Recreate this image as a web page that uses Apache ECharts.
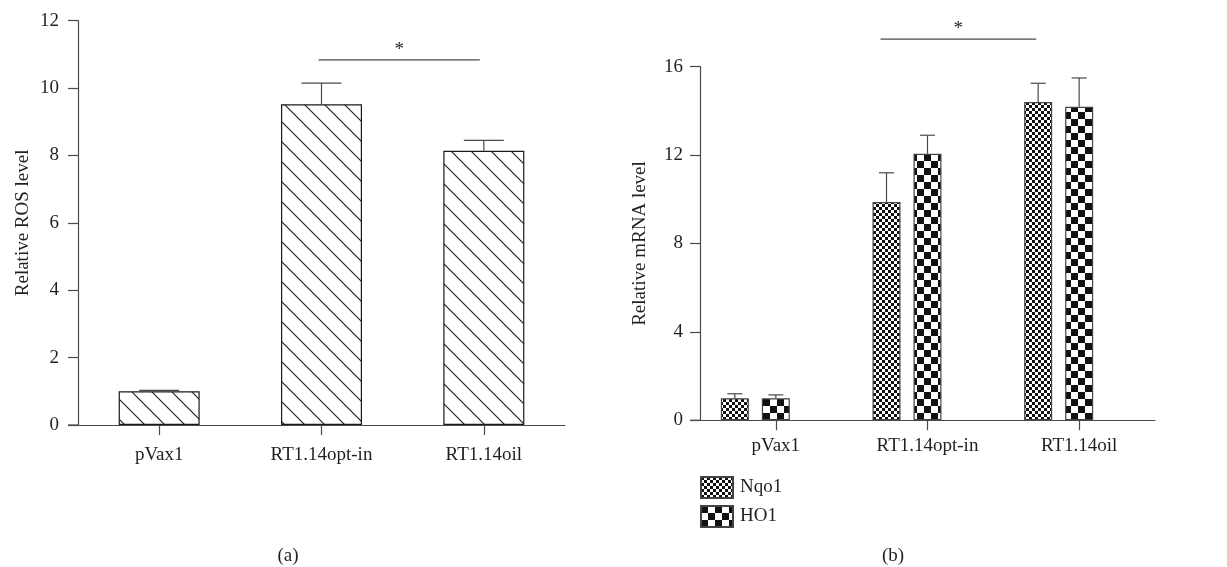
<!DOCTYPE html>
<html><head><meta charset="utf-8">
<script src="https://cdn.jsdelivr.net/npm/echarts@6/dist/echarts.min.js"></script>
<style>html,body{margin:0;padding:0;background:#fff}#c{width:1227px;height:567px}</style>
</head><body><div id="c"></div>
<script>
// ---- data ----
const categories = ['pVax1', 'RT1.14opt-in', 'RT1.14oil'];
const rosMean = [1.0, 9.52, 8.14];
const rosErr = [0.03, 0.63, 0.31];
const nqo1Mean = [1.0, 9.88, 14.4];
const nqo1Err = [0.2, 1.32, 0.85];
const ho1Mean = [1.0, 12.06, 14.19];
const ho1Err = [0.15, 0.84, 1.30];
const rosTicks = [0, 2, 4, 6, 8, 10, 12];
const mrnaTicks = [0, 4, 8, 12, 16];
const sigA = [[1, 2, 10.84]];
const sigB = [[1, 2, 17.25]];
const seriesNames = ['Nqo1', 'HO1'];
const captions = ['(a)', '(b)'];
const yNames = ['Relative ROS level', 'Relative mRNA level'];

// ---- style ----
const FONT = 'Liberation Serif';
const TXT = '#231f20';
const AX = '#4a4a4a';
const FS = 19;

function hatchPattern() {
  const c = document.createElement('canvas'); c.width = 20; c.height = 20;
  const g = c.getContext('2d');
  g.fillStyle = '#fff'; g.fillRect(0, 0, 20, 20);
  g.strokeStyle = '#1a1a1a'; g.lineWidth = 1.1;
  [-20, 0, 20].forEach(o => { g.beginPath(); g.moveTo(o - 2, -2); g.lineTo(o + 22, 22); g.stroke(); });
  return { image: c, repeat: 'repeat' };
}
function checker(cell) {
  const c = document.createElement('canvas'); c.width = cell * 2; c.height = cell * 2;
  const g = c.getContext('2d');
  g.fillStyle = '#fff'; g.fillRect(0, 0, cell * 2, cell * 2);
  g.fillStyle = '#111';
  g.fillRect(0, 0, cell, cell); g.fillRect(cell, cell, cell, cell);
  return { image: c, repeat: 'repeat' };
}

const BW_A = 81, BW_B = 28, GAP_B = 13;
const offN = -(BW_B + GAP_B), offH = 0;

function errRender(xOff, capW) {
  return function (params, api) {
    const i = api.value(0), m = api.value(1), u = api.value(2);
    const p0 = api.coord([i, m]), p1 = api.coord([i, u]);
    const x = p0[0] + xOff;
    const st = { stroke: AX, lineWidth: 1.2 };
    return { type: 'group', children: [
      { type: 'line', shape: { x1: x, y1: p0[1], x2: x, y2: p1[1] }, style: st },
      { type: 'line', shape: { x1: x - capW / 2, y1: p1[1], x2: x + capW / 2, y2: p1[1] }, style: st }
    ]};
  };
}
function sigRender(o0, o1) {
  return function (params, api) {
    const p0 = api.coord([api.value(0), api.value(2)]);
    const p1 = api.coord([api.value(1), api.value(2)]);
    const x0 = p0[0] + o0, x1 = p1[0] + o1, y = p0[1];
    return { type: 'group', children: [
      { type: 'line', shape: { x1: x0, y1: y, x2: x1, y2: y }, style: { stroke: AX, lineWidth: 1.2 } },
      { type: 'text', x: (x0 + x1) / 2, y: y - 10, style: { text: '*', font: FS + 'px "' + FONT + '"', fill: TXT, align: 'center', verticalAlign: 'middle' } }
    ]};
  };
}

const axisCommon = {
  axisLine: { show: true, lineStyle: { color: AX, width: 1.2 } },
  axisTick: { show: true, inside: false, length: 10, lineStyle: { color: AX, width: 1.2 } },
  splitLine: { show: false },
  axisLabel: { color: TXT, fontFamily: FONT, fontSize: FS }
};

const chart = echarts.init(document.getElementById('c'), null, { renderer: 'canvas' });
const option = {
  animation: false,
  backgroundColor: '#fff',
  textStyle: { fontFamily: FONT, color: TXT },
  grid: [
    { left: 78, top: 20.7, width: 487, height: 404.3, outerBoundsMode: 'none', containLabel: false },
    { left: 700, top: 66.7, width: 455, height: 353.6, outerBoundsMode: 'none', containLabel: false }
  ],
  xAxis: [
    Object.assign({}, axisCommon, { type: 'category', gridIndex: 0, data: categories,
      axisTick: Object.assign({}, axisCommon.axisTick, { alignWithLabel: true }),
      axisLabel: Object.assign({}, axisCommon.axisLabel, { margin: 21 }) }),
    Object.assign({}, axisCommon, { type: 'category', gridIndex: 1, data: categories,
      axisTick: Object.assign({}, axisCommon.axisTick, { alignWithLabel: true }),
      axisLabel: Object.assign({}, axisCommon.axisLabel, { margin: 16 }) })
  ],
  yAxis: [
    Object.assign({}, axisCommon, { type: 'value', gridIndex: 0, min: rosTicks[0], max: rosTicks[rosTicks.length - 1],
      interval: rosTicks[1] - rosTicks[0], name: yNames[0], nameLocation: 'middle', nameGap: 45,
      nameTextStyle: { fontFamily: FONT, fontSize: FS, color: TXT },
      axisLabel: Object.assign({}, axisCommon.axisLabel, { margin: 19 }) }),
    Object.assign({}, axisCommon, { type: 'value', gridIndex: 1, min: mrnaTicks[0], max: mrnaTicks[mrnaTicks.length - 1],
      interval: mrnaTicks[1] - mrnaTicks[0], name: yNames[1], nameLocation: 'middle', nameGap: 50,
      nameTextStyle: { fontFamily: FONT, fontSize: FS, color: TXT },
      axisLabel: Object.assign({}, axisCommon.axisLabel, { margin: 17 }) })
  ],
  legend: {
    data: seriesNames, orient: 'vertical', left: 700, top: 476, padding: 0, itemWidth: 32, itemHeight: 21, itemGap: 6,
    icon: 'rect', selectedMode: false,
    textStyle: { fontFamily: FONT, fontSize: FS, color: TXT, lineHeight: 21, padding: [0, 0, 0, 2] }
  },
  graphic: [
    { type: 'line', shape: { x1: 68, y1: 425, x2: 78, y2: 425 }, style: { stroke: AX, lineWidth: 1.2 } },
    { type: 'line', shape: { x1: 690, y1: 420.3, x2: 700, y2: 420.3 }, style: { stroke: AX, lineWidth: 1.2 } },
    { type: 'text', x: 288, y: 556, style: { text: captions[0], font: FS + 'px "' + FONT + '"', fill: TXT, align: 'center', verticalAlign: 'middle' } },
    { type: 'text', x: 893, y: 556, style: { text: captions[1], font: FS + 'px "' + FONT + '"', fill: TXT, align: 'center', verticalAlign: 'middle' } }
  ],
  series: [
    { type: 'bar', name: 'ROS', xAxisIndex: 0, yAxisIndex: 0, data: rosMean, barWidth: BW_A,
      itemStyle: { color: hatchPattern(), borderColor: '#1a1a1a', borderWidth: 1.2 } },
    { type: 'custom', xAxisIndex: 0, yAxisIndex: 0, clip: false, z: 5,
      data: categories.map((c, i) => [i, rosMean[i], rosMean[i] + rosErr[i]]), renderItem: errRender(0, 40) },
    { type: 'custom', xAxisIndex: 0, yAxisIndex: 0, clip: false, z: 5, data: sigA, renderItem: sigRender(-3, -4) },

    { type: 'bar', name: seriesNames[0], xAxisIndex: 1, yAxisIndex: 1, data: nqo1Mean, barWidth: BW_B, barGap: (GAP_B / BW_B * 100) + '%',
      itemStyle: { color: checker(3), borderColor: '#444', borderWidth: 1.2 } },
    { type: 'bar', name: seriesNames[1], xAxisIndex: 1, yAxisIndex: 1, data: ho1Mean, barWidth: BW_B, barGap: (GAP_B / BW_B * 100) + '%',
      itemStyle: { color: checker(7), borderColor: '#444', borderWidth: 1.2 } },
    { type: 'bar', name: 'spacer', xAxisIndex: 1, yAxisIndex: 1, data: [], barWidth: BW_B, barGap: (GAP_B / BW_B * 100) + '%', silent: true },
    { type: 'custom', xAxisIndex: 1, yAxisIndex: 1, clip: false, z: 5,
      data: categories.map((c, i) => [i, nqo1Mean[i], nqo1Mean[i] + nqo1Err[i]]), renderItem: errRender(offN, 15) },
    { type: 'custom', xAxisIndex: 1, yAxisIndex: 1, clip: false, z: 5,
      data: categories.map((c, i) => [i, ho1Mean[i], ho1Mean[i] + ho1Err[i]]), renderItem: errRender(offH, 15) },
    { type: 'custom', xAxisIndex: 1, yAxisIndex: 1, clip: false, z: 5, data: sigB, renderItem: sigRender(offN - 6, offN - 2) }
  ]
};
chart.setOption(option);
</script>
</body></html>
